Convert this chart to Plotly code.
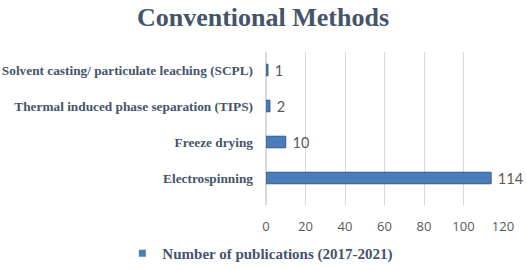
import plotly.graph_objects as go

categories = ["Electrospinning", "Freeze drying",
              "Thermal induced phase separation (TIPS)",
              "Solvent casting/ particulate leaching (SCPL)"]
values = [114, 10, 2, 1]
series_name = "Number of publications (2017-2021)"
x_ticks = [0, 20, 40, 60, 80, 100, 120]

title_color = "#44546A"
label_color = "#595959"
bar_color = "#4A7EBB"

fig = go.Figure()
fig.add_trace(go.Bar(
    y=categories, x=values, orientation="h",
    width=0.32,
    marker=dict(color=bar_color, line=dict(color="#2F5A8C", width=1)),
    text=[" " + str(v) for v in values], textposition="outside",
    constraintext="none",
    textfont=dict(family="Lato", size=14.5, color=label_color),
    cliponaxis=False, showlegend=False,
))
# legend entry (small square key like the original)
fig.add_trace(go.Scatter(
    x=[None], y=[None], mode="markers",
    name="<b>" + series_name + "</b>",
    marker=dict(symbol="square", size=7, color=bar_color),
    showlegend=True,
))

fig.update_layout(
    width=526, height=270,
    margin=dict(l=266, r=23, t=52, b=65, autoexpand=False),
    paper_bgcolor="white", plot_bgcolor="white",
    title=dict(text="<b>Conventional Methods</b>", x=0.5, xanchor="center",
               y=0.972, yanchor="top", xref="container", yref="container",
               font=dict(family="Liberation Serif", size=26, color=title_color)),
    xaxis=dict(range=[0, 120], tickvals=x_ticks, showgrid=True,
               gridcolor="#D9D9D9", gridwidth=1, zeroline=True,
               zerolinecolor="#D9D9D9", showline=False, automargin=False,
               tickfont=dict(family="Open Sans", size=13, color=label_color),
               ticklabelstandoff=12, fixedrange=True),
    yaxis=dict(range=[-0.75, 3.5], showgrid=False, zeroline=False,
               showline=False, ticks="", automargin=False,
               tickvals=categories,
               ticktext=["<b>" + c + "</b>" for c in categories],
               tickfont=dict(family="Liberation Serif", size=13.3, color=title_color),
               ticklabelstandoff=12, fixedrange=True),
    legend=dict(orientation="h", xref="container", yref="container",
                x=0.495, xanchor="center", y=-0.015, yanchor="bottom",
                font=dict(family="Liberation Serif", size=15, color=title_color),
                itemwidth=30),
    bargap=0.68,
)

fig.write_html("out.html", config={"displayModeBar": False},
               post_script="document.body.style.margin='0';")
